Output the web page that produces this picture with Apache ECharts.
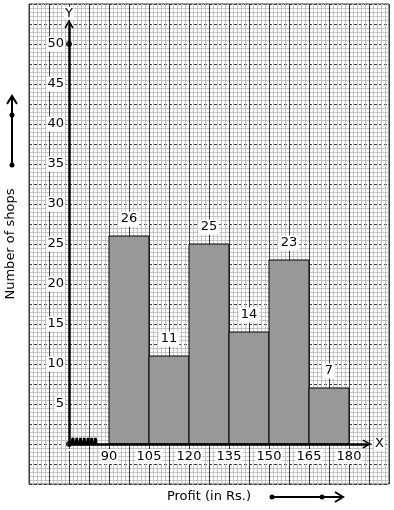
<!DOCTYPE html>
<html>
<head>
<meta charset="utf-8">
<script src="https://cdn.jsdelivr.net/npm/echarts@6/dist/echarts.min.js"></script>
<style>html,body{margin:0;padding:0;background:#fff;}#c{width:394px;height:510px;}</style>
</head>
<body>
<div id="c"></div>
<script>
// ---- data ----
const classStart = [90, 105, 120, 135, 150, 165];
const classEnd = [105, 120, 135, 150, 165, 180];
const shops = [26, 11, 25, 14, 23, 7];
const xTickLabels = [90, 105, 120, 135, 150, 165, 180];
const yTickLabels = [5, 10, 15, 20, 25, 30, 35, 40, 45, 50];
const axisDots = [[75, 0], [75, 50]];
const breakMarks = [[75.6,0],[76.5,0.75],[77.2,-0.75],[77.9,0.75],[78.6,-0.75],[79.3,0.75],[80.0,-0.75],[80.7,0.75],[81.4,-0.75],[82.1,0.75],[82.8,-0.75],[83.5,0.75],[84.2,-0.75],[84.9,0.75],[85.6,-0.75],[86.3,0]];

const FONT = 'DejaVu Sans';
const chart = echarts.init(document.getElementById('c'), null, {renderer: 'canvas'});
const chevronUp = 'path://M0,9 L5,0 L10,9 L8.6,10 L5,3.2 L1.4,10 Z';

const barData = classStart.map((s, i) => [s, classEnd[i], shops[i]]);

chart.setOption({
  animation: false,
  backgroundColor: '#fff',
  grid: [
    {left: 29, top: 4, width: 360, height: 480, containLabel: false, outerBoundsMode: 'none',
      show: true, borderColor: '#3a3a3a', borderWidth: 1, backgroundColor: 'transparent'},
    {left: 69, top: 24, right: 27, bottom: 66, containLabel: false, outerBoundsMode: 'none', show: false}
  ],
  xAxis: [
    {
      type: 'value', gridIndex: 0, min: 60, max: 195, interval: 7.5,
      axisLine: {show: false}, axisTick: {show: false}, axisLabel: {show: false},
      splitLine: {show: true, showMinLine: true, showMaxLine: true, lineStyle: {color: '#3a3a3a', width: 1}},
      minorTick: {show: false, splitNumber: 5},
      minorSplitLine: {show: true, lineStyle: {color: '#c4c4c4', width: 1}},
      name: 'Profit (in Rs.)', nameLocation: 'middle', nameGap: 6,
      nameTextStyle: {fontFamily: FONT, fontSize: 13, color: '#000', verticalAlign: 'top'}
    },
    {
      type: 'value', gridIndex: 1, min: 75, max: 186.75, interval: 15, z: 5,
      axisLine: {show: true, onZero: false, symbol: ['none', chevronUp], symbolSize: [10, 9],
        lineStyle: {color: '#000', width: 2.5}},
      axisTick: {show: false}, splitLine: {show: false},
      axisLabel: {
        show: true, margin: 5, fontFamily: FONT, fontSize: 13, color: '#000',
        backgroundColor: '#fff', padding: [1, 1],
        showMinLabel: true, showMaxLabel: true,
        formatter: v => xTickLabels.indexOf(Math.round(v * 1000) / 1000) >= 0 ? String(v) : ''
      },
      name: 'X', nameLocation: 'end', nameGap: 6,
      nameTextStyle: {fontFamily: FONT, fontSize: 13, color: '#000', backgroundColor: '#fff', padding: [0, 1]}
    }
  ],
  yAxis: [
    {
      type: 'value', gridIndex: 0, min: -5, max: 55, interval: 2.5,
      axisLine: {show: false}, axisTick: {show: false}, axisLabel: {show: false},
      splitLine: {show: true, showMinLine: true, showMaxLine: true, lineStyle: {color: '#3a3a3a', width: 1, type: [3, 2]}},
      minorTick: {show: false, splitNumber: 5},
      minorSplitLine: {show: true, lineStyle: {color: '#c4c4c4', width: 1}},
      name: 'Number of shops', nameLocation: 'middle', nameGap: 12, nameRotate: 90,
      nameTextStyle: {fontFamily: FONT, fontSize: 13, color: '#000'}
    },
    {
      type: 'value', gridIndex: 1, min: 0, max: 52.5, interval: 5, z: 5,
      axisLine: {show: true, onZero: false, symbol: ['none', chevronUp], symbolSize: [10, 9],
        lineStyle: {color: '#000', width: 2.5}},
      axisTick: {show: false}, splitLine: {show: false},
      axisLabel: {
        show: true, margin: 4, fontFamily: FONT, fontSize: 13, color: '#000',
        backgroundColor: '#fff', padding: [1, 1],
        formatter: v => yTickLabels.indexOf(v) >= 0 ? String(v) : ''
      },
      name: 'Y', nameLocation: 'end', nameGap: 4,
      nameTextStyle: {fontFamily: FONT, fontSize: 13, color: '#000', backgroundColor: '#fff', padding: [0, 1]}
    }
  ],
  series: [
    {
      type: 'custom', xAxisIndex: 1, yAxisIndex: 1, z: 3,
      data: barData,
      renderItem: function (params, api) {
        const x0 = api.value(0), x1 = api.value(1), v = api.value(2);
        const p0 = api.coord([x0, v]);
        const p1 = api.coord([x1, 0]);
        return {
          type: 'group',
          children: [
            {type: 'rect', shape: {x: p0[0], y: p0[1], width: p1[0] - p0[0], height: p1[1] - p0[1]},
              style: {fill: '#999999', stroke: '#000', lineWidth: 1}},
            {type: 'text', style: {text: String(v), x: (p0[0] + p1[0]) / 2, y: p0[1] - 17,
              align: 'center', verticalAlign: 'middle', font: '13px "DejaVu Sans"', fill: '#000',
              backgroundColor: '#fff', padding: [1, 2]}}
          ]
        };
      }
    },
    {
      type: 'line', xAxisIndex: 1, yAxisIndex: 1, z: 6, data: breakMarks,
      symbol: 'none', lineStyle: {color: '#000', width: 2.5}, silent: true
    },
    {
      type: 'scatter', xAxisIndex: 1, yAxisIndex: 1, z: 7, data: axisDots,
      symbolSize: 6, itemStyle: {color: '#000'}, silent: true
    }
  ],
  graphic: [
    {type: 'line', shape: {x1: 12, y1: 165, x2: 12, y2: 97}, style: {stroke: '#000', lineWidth: 2}},
    {type: 'polyline', shape: {points: [[7, 104], [12, 96], [17, 104]]}, style: {stroke: '#000', lineWidth: 2, fill: null}},
    {type: 'circle', shape: {cx: 12, cy: 115, r: 2.5}, style: {fill: '#000'}},
    {type: 'circle', shape: {cx: 12, cy: 165, r: 2.5}, style: {fill: '#000'}},
    {type: 'line', shape: {x1: 272, y1: 497, x2: 341, y2: 497}, style: {stroke: '#000', lineWidth: 2}},
    {type: 'polyline', shape: {points: [[335, 492], [343, 497], [335, 502]]}, style: {stroke: '#000', lineWidth: 2, fill: null}},
    {type: 'circle', shape: {cx: 272, cy: 497, r: 2.5}, style: {fill: '#000'}},
    {type: 'circle', shape: {cx: 322, cy: 497, r: 2.5}, style: {fill: '#000'}}
  ]
});
</script>
</body>
</html>
